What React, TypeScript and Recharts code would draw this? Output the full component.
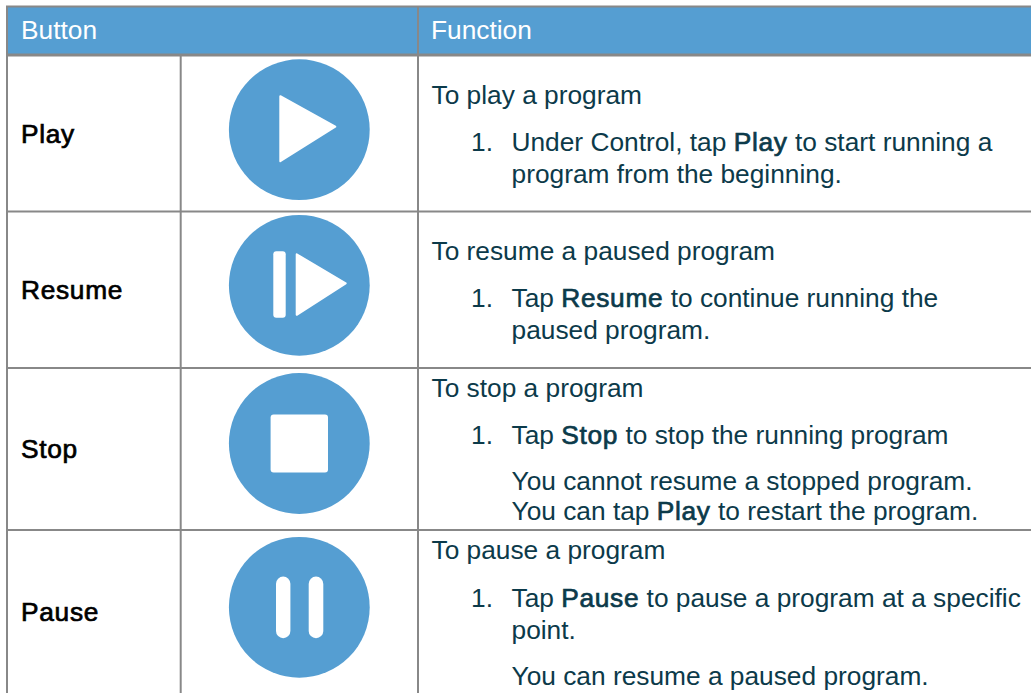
import React from 'react';
import { ScatterChart, Scatter, XAxis, YAxis, ReferenceLine, ReferenceArea } from 'recharts';

// ---- content ----
const headers = ['Button', 'Function'];
const buttons = ['Play', 'Resume', 'Stop', 'Pause'];
const functionLines = [
  'To play a program',
  '1.',
  'Under Control, tap *Play* to start running a',
  'program from the beginning.',
  'To resume a paused program',
  '1.',
  'Tap *Resume* to continue running the',
  'paused program.',
  'To stop a program',
  '1.',
  'Tap *Stop* to stop the running program',
  'You cannot resume a stopped program.',
  'You can tap *Play* to restart the program.',
  'To pause a program',
  '1.',
  'Tap *Pause* to pause a program at a specific',
  'point.',
  'You can resume a paused program.',
];

// ---- layout (table geometry, kept apart from the content) ----
const W = 1031;
const H = 693;
const BLUE = '#559ED2';
const GRID = '#888888';
const INK = '#0C3A4A';
const FONT = '"Liberation Sans", Arial, sans-serif';
const SIZE = 26.3;
const BOLD_SPACING = 0.7;
const headerX = [21, 431];
const headerY = 39;
const buttonY = [143, 299, 458, 621];
const iconX = 299.3;
const iconY = [129.7, 285.3, 443.5, 607.3];
const lineX = [431.5, 471, 511.5, 511.5, 431.5, 471, 511.5, 511.5, 431.5, 471, 511.5, 511.5, 511.5, 431.5, 471, 511.5, 511.5, 511.5];
const lineY = [104, 151, 151, 183, 260, 307, 307, 339, 397, 444, 444, 490, 520, 559, 607, 607, 639, 685];

const headerData = headers.map((label, i) => ({ x: headerX[i], y: headerY, label }));
const buttonData = buttons.map((label, i) => ({ x: 21, y: buttonY[i], label }));
const iconData = buttons.map((label, i) => ({ x: iconX, y: iconY[i], label }));
const lineData = functionLines.map((label, i) => ({ x: lineX[i], y: lineY[i], label }));

const HeaderText = ({ cx, cy, payload }: any) => (
  <text x={cx} y={cy} fontFamily={FONT} fontSize={SIZE} fill="#FFFFFF">{payload.label}</text>
);

const ButtonText = ({ cx, cy, payload }: any) => (
  <text x={cx} y={cy} fontFamily={FONT} fontSize={SIZE} letterSpacing={BOLD_SPACING} fill="#000000" stroke="#000000" strokeWidth={0.7}>{payload.label}</text>
);

const LineText = ({ cx, cy, payload }: any) => {
  const parts = String(payload.label).split('*');
  return (
    <text x={cx} y={cy} fontFamily={FONT} fontSize={SIZE} fill={INK} xmlSpace="preserve">
      {parts.map((p: string, i: number) =>
        i % 2 === 1 ? (
          <tspan key={i} stroke={INK} strokeWidth={0.7} letterSpacing={BOLD_SPACING}>{p}</tspan>
        ) : (
          <tspan key={i}>{p}</tspan>
        ),
      )}
    </text>
  );
};

const Icon = ({ cx, cy, payload }: any) => {
  const white = { fill: '#FFFFFF', stroke: '#FFFFFF', strokeWidth: 2, strokeLinejoin: 'round' as const };
  let glyph: React.ReactNode = null;
  if (payload.label === 'Play') {
    glyph = <path d={`M${cx - 19} ${cy - 33.5}L${cx + 36} ${cy - 3}L${cx - 19} ${cy + 31.5}Z`} {...white} />;
  } else if (payload.label === 'Resume') {
    glyph = (
      <g>
        <rect x={cx - 26} y={cy - 34} width={12.4} height={66.5} rx={3} fill="#FFFFFF" />
        <path d={`M${cx - 2.6} ${cy - 31}L${cx + 46.4} ${cy - 2}L${cx - 2.6} ${cy + 29.5}Z`} {...white} />
      </g>
    );
  } else if (payload.label === 'Stop') {
    glyph = <rect x={cx - 28.7} y={cy - 29} width={57.4} height={58} rx={3} fill="#FFFFFF" />;
  } else {
    glyph = (
      <g>
        <rect x={cx - 23.3} y={cy - 30.7} width={14.4} height={61.6} rx={7.2} fill="#FFFFFF" />
        <rect x={cx + 9.4} y={cy - 30.7} width={14.6} height={61.6} rx={7.3} fill="#FFFFFF" />
      </g>
    );
  }
  return (
    <g>
      <circle cx={cx} cy={cy} r={70.4} fill={BLUE} />
      {glyph}
    </g>
  );
};

const gridH = [6.5, 55, 211.5, 368, 530];
const gridStroke = [2, 3, 2, 2, 2];

export default function App() {
  return (
    <div style={{ position: 'absolute', left: 0, top: 0, width: W, height: H, overflow: 'hidden', background: '#fff' }}>
      <ScatterChart width={W} height={H} margin={{ top: 0, right: 0, bottom: 0, left: 0 }}>
        <XAxis type="number" dataKey="x" domain={[0, W]} hide />
        <YAxis type="number" dataKey="y" domain={[0, H]} reversed hide />
        <ReferenceArea x1={7} x2={W} y1={7} y2={54} fill={BLUE} fillOpacity={1} stroke="none" ifOverflow="visible" />
        {gridH.map((y, i) => (
          <ReferenceLine key={y} segment={[{ x: 6, y }, { x: W, y }]} stroke={GRID} strokeWidth={gridStroke[i]} ifOverflow="visible" />
        ))}
        <ReferenceLine segment={[{ x: 7, y: 6 }, { x: 7, y: H }]} stroke={GRID} strokeWidth={2} ifOverflow="visible" />
        <ReferenceLine segment={[{ x: 180.7, y: 56 }, { x: 180.7, y: H }]} stroke={GRID} strokeWidth={2} ifOverflow="visible" />
        <ReferenceLine segment={[{ x: 418, y: 6 }, { x: 418, y: H }]} stroke={GRID} strokeWidth={2} ifOverflow="visible" />
        <Scatter data={iconData} shape={<Icon />} isAnimationActive={false} />
        <Scatter data={headerData} shape={<HeaderText />} isAnimationActive={false} />
        <Scatter data={buttonData} shape={<ButtonText />} isAnimationActive={false} />
        <Scatter data={lineData} shape={<LineText />} isAnimationActive={false} />
      </ScatterChart>
    </div>
  );
}
